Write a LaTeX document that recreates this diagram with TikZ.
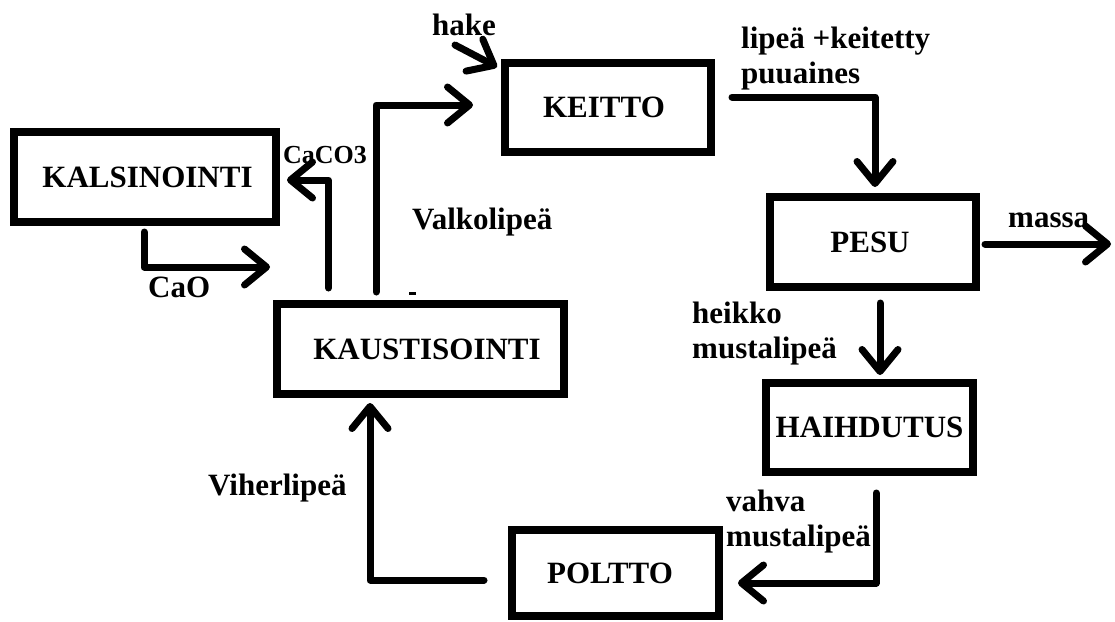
\documentclass[tikz,border=0pt]{standalone}
\usepackage{fontspec}
\setmainfont{Liberation Serif}
\usetikzlibrary{arrows.meta}
\begin{document}
\begin{tikzpicture}[x=1pt,y=-1pt,
  box/.style={draw, line width=8pt, rectangle, inner sep=0pt,
    font=\fontsize{31}{37}\selectfont\bfseries},
  conn/.style={line width=7pt, line cap=round, line join=round,
    -{Straight Barb[length=22pt,width=36pt,round]}},
  lbl/.style={inner sep=0pt, font=\fontsize{31}{35}\selectfont\bfseries, align=left},
  slbl/.style={inner sep=0pt, font=\fontsize{26}{30}\selectfont\bfseries}]
\useasboundingbox (0,0) rectangle (1115,621);

% boxes
\node[box, minimum width=262pt, minimum height=90pt] (kals)   at (145,177)   {\hspace*{5pt}KALSINOINTI};
\node[box, minimum width=206pt, minimum height=89pt] (keitto) at (608,107.5) {KEITTO\hspace*{8pt}};
\node[box, minimum width=206pt, minimum height=90pt] (pesu)   at (873,242)   {PESU\hspace*{6pt}};
\node[box, minimum width=287pt, minimum height=90pt] (kaust)  at (420.5,349) {\hspace*{13pt}KAUSTISOINTI};
\node[box, minimum width=207pt, minimum height=89pt] (haih)   at (869.5,427.5) {HAIHDUTUS};
\node[box, minimum width=207pt, minimum height=86pt] (poltto) at (615.5,573) {POLTTO\hspace*{11pt}};

% free ends
\coordinate (caoEnd)   at (270,267);
\coordinate (hakeStart) at (455,45);
\coordinate (massaEnd) at (1111,244);

% connectors
\draw[conn] ([xshift=-1pt,yshift=-6pt]kals.south) |- (caoEnd);
\draw[conn] ([xshift=-92pt,yshift=12pt]kaust.north) |- ([xshift=7pt,yshift=-3pt]kals.east);
\draw[conn] ([xshift=-44.5pt,yshift=8pt]kaust.north) |- ([xshift=-28pt,yshift=2.5pt]keitto.west);
\draw[conn] (hakeStart) -- ([xshift=-4pt,yshift=-8pt]keitto.north west);
\draw[conn] ([xshift=17pt,yshift=10.5pt]keitto.east) -| ([xshift=2pt,yshift=6pt]pesu.north);
\draw[conn] ([xshift=5pt,yshift=-2pt]pesu.east) -- (massaEnd);
\draw[conn] ([xshift=7pt,yshift=-12pt]pesu.south) -- ([xshift=10.5pt,yshift=4pt]haih.north);
\draw[conn] ([xshift=6.5pt,yshift=-17pt]haih.south) |- ([xshift=15pt,yshift=-10pt]poltto.east);
\draw[conn] ([xshift=-24pt,yshift=-7pt]poltto.west) -| ([xshift=-50.5pt,yshift=-5pt]kaust.south);

% labels
\node[lbl, anchor=base west] (lhake) at (432,35) {hake};
\node[lbl, anchor=north west] (llipea) at (741,27) {lipeä +keitetty\\puuaines};
\node[lbl, anchor=base west] (lmassa) at (1008,227) {massa};
\node[lbl, anchor=base west] (lvalko) at (412,229) {Valkolipeä};
\node[slbl, anchor=base west] (lcaco) at (283,163) {CaCO3};
\node[lbl, anchor=base west] (lcao) at (148,297) {CaO};
\node[lbl, anchor=north west] (lheikko) at (692,302) {heikko\\mustalipeä};
\node[lbl, anchor=base west] (lviher) at (208,495) {Viherlipeä};
\node[lbl, anchor=north west] (lvahva) at (726,490) {vahva\\mustalipeä};

% stray mark
\fill (409,292) rectangle (416,294.5);
\end{tikzpicture}
\end{document}
